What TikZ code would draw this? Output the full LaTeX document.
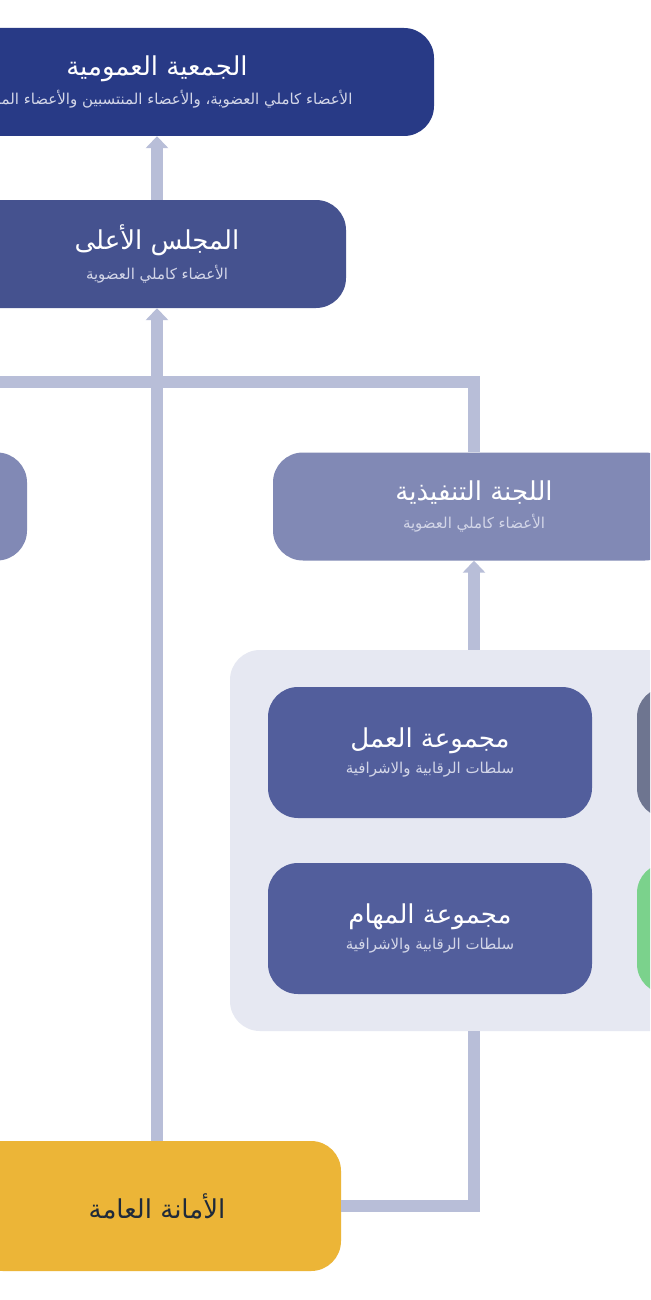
\documentclass[tikz,border=0pt]{standalone}
\usepackage{fontspec}
\newfontfamily\arabicfont[Script=Arabic]{DejaVu Sans}
\TeXXeTstate=1
\usetikzlibrary{arrows.meta,positioning}
\definecolor{navyA}{HTML}{283A86}
\definecolor{navyB}{HTML}{45528F}
\definecolor{lilacC}{HTML}{8189B5}
\definecolor{blueD}{HTML}{525E9C}
\definecolor{greyE}{HTML}{6E7590}
\definecolor{greenF}{HTML}{7BD28C}
\definecolor{goldG}{HTML}{ECB537}
\definecolor{panelH}{HTML}{E6E8F2}
\definecolor{linkGrey}{HTML}{B8BED8}
\definecolor{subText}{HTML}{D3D6E8}
\definecolor{darkText}{HTML}{1F2A3A}
\newcommand{\boxlines}[2]{{\fontsize{26}{28}\selectfont\beginR #1\endR}\\[8pt]{\fontsize{15}{18}\selectfont\color{subText}\beginR #2\endR}}
\begin{document}
\begin{tikzpicture}
[x=1pt,y=-1pt,
  boxDecorate/.style={rounded corners=30pt,inner sep=0pt,text=white,align=center,font=\arabicfont},
  lineDecorate/.style={-,line width=12pt,draw=linkGrey},
  arrowDecorate/.style={lineDecorate,-{Triangle[width=22pt,length=12pt]}}]
\useasboundingbox (0,0) rectangle (650,1300);
\fill[white] (0,0) rectangle (650,1300);
\clip (0,0) rectangle (650,1300);
%% panel behind the groups
\node (grp) at (614.5,840.5) [boxDecorate,fill=panelH,minimum width=769pt,minimum height=381pt] {};
%% boxes
\foreach \nodename/\x/\y/\w/\h/\col/\ttl/\sbt in {
  gen/157/82/554/108/navyA/الجمعية العمومية/الأعضاء كاملي العضوية، والأعضاء المنتسبين والأعضاء المراقبين,
  sup/157/254/378/108/navyB/المجلس الأعلى/الأعضاء كاملي العضوية,
  left/-172/506.5/398/108/lilacC//,
  exec/474/506.5/402/108/lilacC/اللجنة التنفيذية/الأعضاء كاملي العضوية,
  work/430/752.5/324/131/blueD/مجموعة العمل/سلطات الرقابية والاشرافية,
  tasks/430/928.5/324/131/blueD/مجموعة المهام/سلطات الرقابية والاشرافية,
  grey/799/752.5/324/131/greyE//,
  green/799/928.5/324/131/greenF//}
{
  \node (\nodename) at (\x,\y) [boxDecorate,fill=\col,minimum width=\w pt,minimum height=\h pt] {\boxlines{\ttl}{\sbt}};
}
\node (sec) at (157,1206) [boxDecorate,fill=goldG,text=darkText,minimum width=368pt,minimum height=130pt] {\fontsize{26}{28}\selectfont\beginR الأمانة العامة\endR};
%% connectors
\draw[arrowDecorate] (gen.south |- sup.north) -- (gen.south);
\draw[arrowDecorate] (sec.north) -- (sec.north |- sup.south);
\draw[lineDecorate] (exec.north) |- (0,382) -| (left.north);
\draw[arrowDecorate] (exec.south |- grp.north) -- (exec.south);
\draw[lineDecorate] (exec.south |- grp.south) |- (sec.east);
\end{tikzpicture}
\end{document}
